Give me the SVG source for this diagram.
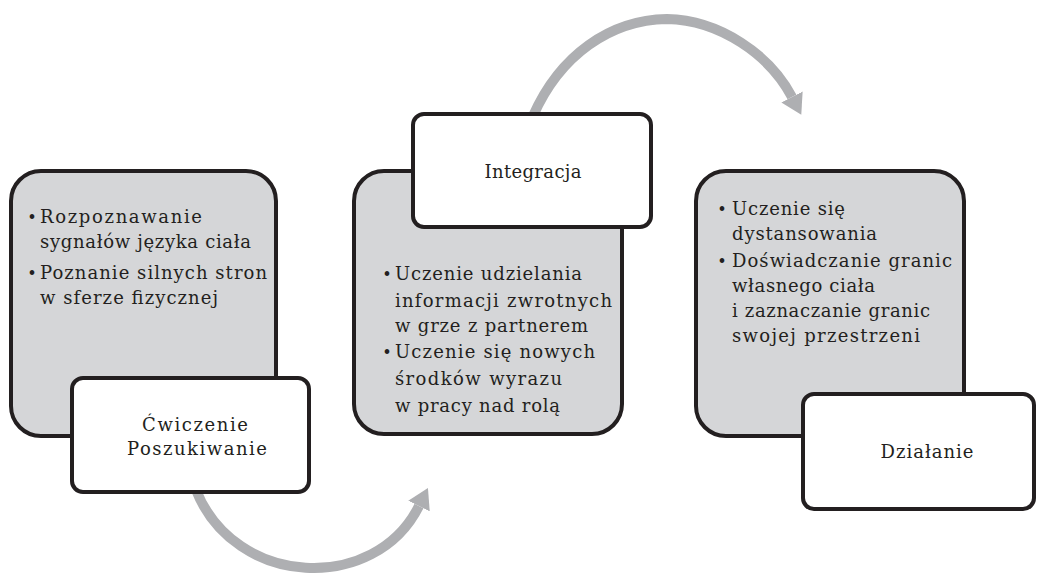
<svg xmlns="http://www.w3.org/2000/svg" width="1037" height="575" viewBox="0 0 1037 575">
  <style>
    .panel { fill: #d5d6d8; stroke: #231f20; stroke-width: 4; }
    .label { fill: #ffffff; stroke: #231f20; stroke-width: 4; }
    .flow { fill: none; stroke: #aeafb2; stroke-width: 10; }
    text { font-family: "DejaVu Serif", "Liberation Serif", serif; font-size: 18px; fill: #231f20; }
    .mid { text-anchor: middle; }
    .dot { text-anchor: middle; font-size: 16px; }
  </style>
  <defs>
    <marker id="head" markerUnits="userSpaceOnUse" viewBox="0 0 20 24" refX="0" refY="12" markerWidth="20" markerHeight="24" orient="auto">
      <path d="M0,0 L20,12 L0,24 z" fill="#aeafb2"/>
    </marker>
  </defs>

  <!-- curved flow arrows -->
  <g id="connectors">
    <path class="flow" d="M196 490 C235 588, 375 594, 419 506" marker-end="url(#head)"/>
    <path class="flow" d="M533 116 C560 55, 610 20, 667 19 C720 20, 770 55, 792 97" marker-end="url(#head)"/>
  </g>

  <!-- stage 1 -->
  <g id="panel-1">
    <rect class="panel" x="11" y="171" width="265" height="265" rx="30"/>
    <text class="dot" x="32" y="223">•</text>
    <text x="40" y="223" textLength="162">Rozpoznawanie</text>
    <text x="40" y="248" textLength="211">sygnałów języka ciała</text>
    <text class="dot" x="32" y="279">•</text>
    <text x="40" y="279" textLength="227">Poznanie silnych stron</text>
    <text x="40" y="304" textLength="178">w sferze fizycznej</text>
  </g>
  <g id="label-1">
    <rect class="label" x="72" y="378" width="237" height="114" rx="11"/>
    <text class="mid" x="195" y="431" textLength="106">Ćwiczenie</text>
    <text class="mid" x="197" y="455" textLength="140">Poszukiwanie</text>
  </g>

  <!-- stage 2 -->
  <g id="panel-2">
    <rect class="panel" x="354" y="171" width="268" height="263" rx="30"/>
    <text class="dot" x="387" y="280">•</text>
    <text x="395" y="280" textLength="187">Uczenie udzielania</text>
    <text x="395" y="307" textLength="217">informacji zwrotnych</text>
    <text x="395" y="332" textLength="193">w grze z partnerem</text>
    <text class="dot" x="387" y="358">•</text>
    <text x="395" y="358" textLength="200">Uczenie się nowych</text>
    <text x="395" y="385" textLength="167">środków wyrazu</text>
    <text x="395" y="412" textLength="165">w pracy nad rolą</text>
  </g>
  <g id="label-2">
    <rect class="label" x="413" y="114" width="238" height="113" rx="11"/>
    <text class="mid" x="533" y="178" textLength="97">Integracja</text>
  </g>

  <!-- stage 3 -->
  <g id="panel-3">
    <rect class="panel" x="696" y="171" width="268" height="265" rx="30"/>
    <text class="dot" x="722" y="215">•</text>
    <text x="732" y="215" textLength="113">Uczenie się</text>
    <text x="732" y="240" textLength="145">dystansowania</text>
    <text class="dot" x="722" y="267">•</text>
    <text x="732" y="267" textLength="220">Doświadczanie granic</text>
    <text x="732" y="292" textLength="143">własnego ciała</text>
    <text x="732" y="317" textLength="198">i zaznaczanie granic</text>
    <text x="732" y="342" textLength="188">swojej przestrzeni</text>
  </g>
  <g id="label-3">
    <rect class="label" x="803" y="394" width="231" height="115" rx="11"/>
    <text class="mid" x="927" y="458" textLength="93">Działanie</text>
  </g>
</svg>
